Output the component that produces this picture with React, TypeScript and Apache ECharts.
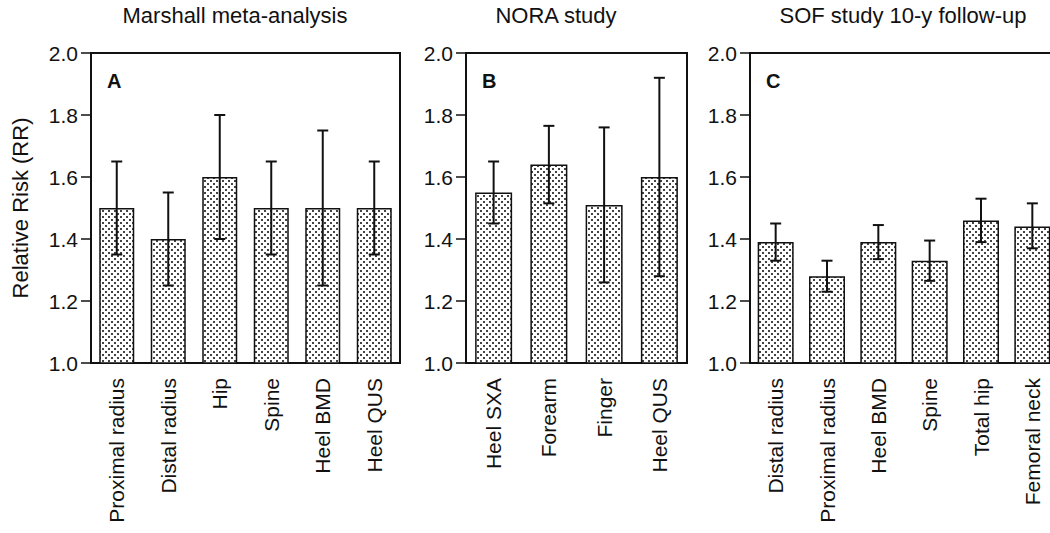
import React, { useEffect, useRef } from "react";
import * as echarts from "echarts";

const catA = ["Proximal radius", "Distal radius", "Hip", "Spine", "Heel BMD", "Heel QUS"];
const rrA = [1.5, 1.4, 1.6, 1.5, 1.5, 1.5];
const loA = [1.35, 1.25, 1.4, 1.35, 1.25, 1.35];
const hiA = [1.65, 1.55, 1.8, 1.65, 1.75, 1.65];

const catB = ["Heel SXA", "Forearm", "Finger", "Heel QUS"];
const rrB = [1.55, 1.64, 1.51, 1.6];
const loB = [1.45, 1.515, 1.26, 1.28];
const hiB = [1.65, 1.765, 1.76, 1.92];

const catC = ["Distal radius", "Proximal radius", "Heel BMD", "Spine", "Total hip", "Femoral neck"];
const rrC = [1.39, 1.28, 1.39, 1.33, 1.46, 1.44];
const loC = [1.33, 1.23, 1.335, 1.265, 1.39, 1.37];
const hiC = [1.45, 1.33, 1.445, 1.395, 1.53, 1.515];

const titles = ["Marshall meta-analysis", "NORA study", "SOF study 10-y follow-up"];
const letters = ["A", "B", "C"];
const yTicks = { min: 1.0, max: 2.0, interval: 0.2 };
const yName = "Relative Risk (RR)";

const FONT = '"Liberation Sans", Arial, Helvetica, sans-serif';
const INK = "#111";

function makePattern(): HTMLCanvasElement {
  const c = document.createElement("canvas");
  c.width = 6;
  c.height = 6;
  const ctx = c.getContext("2d")!;
  ctx.fillStyle = "#ffffff";
  ctx.fillRect(0, 0, 6, 6);
  ctx.fillStyle = "#444";
  ctx.fillRect(0, 0, 2, 2);
  ctx.fillRect(3, 3, 2, 2);
  return c;
}

export default function App() {
  const ref = useRef<HTMLDivElement>(null);
  useEffect(() => {
    if (!ref.current) return;
    const chart = echarts.init(ref.current, undefined, { renderer: "svg" });
    const pattern = makePattern();

    const panels = [
      { cats: catA, rr: rrA, lo: loA, hi: hiA, left: 91, width: 309, barW: 35 },
      { cats: catB, rr: rrB, lo: loB, hi: hiB, left: 466, width: 221, barW: 37 },
      { cats: catC, rr: rrC, lo: loC, hi: hiC, left: 750, width: 308, barW: 36 },
    ];
    const titleX = [235, 556, 903];

    const grid: any[] = [];
    const xAxis: any[] = [];
    const yAxis: any[] = [];
    const series: any[] = [];
    const graphic: any[] = [];

    panels.forEach((p, k) => {
      grid.push({
        left: p.left,
        top: 53,
        width: p.width,
        height: 310,
        show: true,
        borderColor: INK,
        borderWidth: 2,
        backgroundColor: "transparent",
      });
      xAxis.push({
        type: "category",
        gridIndex: k,
        data: p.cats,
        axisLine: { lineStyle: { color: INK, width: 2 } },
        axisTick: { alignWithLabel: true, length: 8, lineStyle: { color: INK, width: 1.5 } },
        axisLabel: { rotate: 90, margin: 15, fontSize: 21, color: INK, fontFamily: FONT, interval: 0 },
        splitLine: { show: false },
      });
      yAxis.push({
        type: "value",
        gridIndex: k,
        min: yTicks.min,
        max: yTicks.max,
        interval: yTicks.interval,
        axisLine: { show: true, lineStyle: { color: INK, width: 2 } },
        axisTick: { show: true, length: 10, lineStyle: { color: INK, width: 1.5 } },
        axisLabel: {
          margin: 13,
          fontSize: 21,
          color: INK,
          fontFamily: FONT,
          formatter: (v: number) => v.toFixed(1),
        },
        splitLine: { show: false },
      });
      series.push({
        type: "bar",
        xAxisIndex: k,
        yAxisIndex: k,
        data: p.rr,
        barWidth: p.barW,
        itemStyle: {
          color: { image: pattern, repeat: "repeat" },
          borderColor: INK,
          borderWidth: 1.5,
        },
        z: 2,
      });
      series.push({
        type: "custom",
        xAxisIndex: k,
        yAxisIndex: k,
        z: 5,
        encode: { x: 0, y: [1, 2] },
        data: p.cats.map((_, i) => [i, p.lo[i], p.hi[i]]),
        renderItem: (params: any, api: any) => {
          const x = api.value(0);
          const a = api.coord([x, api.value(1)]);
          const b = api.coord([x, api.value(2)]);
          const w = 5.5;
          const st = { stroke: INK, lineWidth: 2 };
          return {
            type: "group",
            children: [
              { type: "line", shape: { x1: a[0], y1: a[1], x2: b[0], y2: b[1] }, style: st },
              { type: "line", shape: { x1: b[0] - w, y1: b[1], x2: b[0] + w, y2: b[1] }, style: st },
              { type: "line", shape: { x1: a[0] - w, y1: a[1], x2: a[0] + w, y2: a[1] }, style: st },
            ],
          };
        },
      });
      graphic.push({
        type: "text",
        x: titleX[k],
        y: 15,
        style: {
          text: titles[k],
          font: `22px ${FONT}`,
          fill: INK,
          textAlign: "center",
          textVerticalAlign: "middle",
        },
      });
      graphic.push({
        type: "text",
        x: p.left + 16,
        y: 81,
        style: {
          text: letters[k],
          font: `bold 20px ${FONT}`,
          fill: INK,
          textAlign: "left",
          textVerticalAlign: "middle",
        },
      });
    });

    graphic.push({
      type: "text",
      x: 20,
      y: 208,
      rotation: Math.PI / 2,
      style: {
        text: yName,
        font: `22px ${FONT}`,
        fill: INK,
        textAlign: "center",
        textVerticalAlign: "middle",
      },
    });

    chart.setOption({
      animation: false,
      backgroundColor: "#fff",
      grid,
      xAxis,
      yAxis,
      series,
      graphic,
    });
    return () => chart.dispose();
  }, []);

  return (
    <div
      ref={ref}
      style={{ position: "fixed", left: 0, top: 0, width: 1080, height: 533, background: "#fff" }}
    />
  );
}
